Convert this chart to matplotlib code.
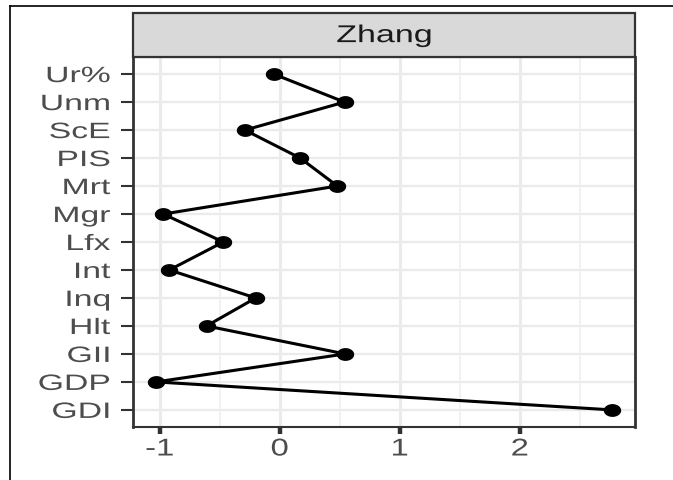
import matplotlib
matplotlib.use("Agg")
import matplotlib.pyplot as plt
from matplotlib.patches import Rectangle
from matplotlib.lines import Line2D
from matplotlib.path import Path
from matplotlib.transforms import Affine2D
from matplotlib.patheffects import AbstractPathEffect
import numpy as np

# Data (top to bottom as displayed)
categories = ["Ur%", "Unm", "ScE", "PIS", "Mrt", "Mgr", "Lfx", "Int", "Inq", "Hlt", "GII", "GDP", "GDI"]
values = [-0.05, 0.54, -0.29, 0.17, 0.48, -0.97, -0.47, -0.92, -0.20, -0.61, 0.545, -1.03, 2.77]
x_ticks = [-1, 0, 1, 2]
x_ticklabels = ["-1", "0", "1", "2"]
panel_title = "Zhang"

plt.rcParams['font.family'] = ['Liberation Sans', 'DejaVu Sans']


class HStretch(AbstractPathEffect):
    """Draw text horizontally stretched (the reference image is widened)."""
    def __init__(self, sx, anchor="center"):
        super().__init__()
        self.sx = sx
        self.anchor = anchor

    def draw_path(self, renderer, gc, tpath, affine, rgbFace=None):
        ext = tpath.get_extents()
        if self.anchor == "right":
            cx = ext.x1
        elif self.anchor == "left":
            cx = ext.x0
        else:
            cx = 0.5 * (ext.x0 + ext.x1)
        t = Affine2D().translate(-cx, 0).scale(self.sx, 1).translate(cx, 0) + affine
        renderer.draw_path(gc, tpath, t, rgbFace)


W, H = 673, 481
fig = plt.figure(figsize=(W / 100, H / 100), dpi=100)
fig.patch.set_facecolor("white")

left, right = 133.3 / W, 635 / W
bottom, top = 1 - 427.7 / H, 1 - 58.3 / H
ax = fig.add_axes([left, bottom, right - left, top - bottom])

n = len(categories)
ypos = np.arange(n, 0, -1)  # first category at top

# grid (theme_bw look, widened horizontally)
for v in [-0.5, 0.5, 1.5, 2.5]:
    ax.axvline(v, color="#F2F2F2", lw=1.5, zorder=0)
for v in x_ticks:
    ax.axvline(v, color="#EBEBEB", lw=2.3, zorder=0)
for y in ypos:
    ax.axhline(y, color="#EBEBEB", lw=1.6, zorder=0)

# elliptical marker (horizontally stretched circle)
th = np.linspace(0, 2 * np.pi, 60)
ell = Path(np.column_stack([1.4 * np.cos(th), np.sin(th)]), closed=True)

ax.plot(values, ypos, color="black", lw=2.2, zorder=3)
ax.plot(values, ypos, linestyle="none", marker=ell, color="black", markersize=11.5, zorder=4)

xmin, xmax = min(values), max(values)
pad = 0.05 * (xmax - xmin)
ax.set_xlim(xmin - pad, xmax + pad)
ax.set_ylim(0.4, n + 0.6)

ax.set_xticks(x_ticks)
ax.set_xticklabels(x_ticklabels)
ax.set_yticks(ypos)
ax.set_yticklabels(categories)
ax.tick_params(axis="x", colors="#333333", length=5, width=3.2, labelsize=17.5,
               labelcolor="#4D4D4D", pad=3.5)
ax.tick_params(axis="y", colors="#333333", length=8.5, width=1.5, labelsize=16,
               labelcolor="#4D4D4D", pad=8)
for lbl in ax.get_yticklabels():
    lbl.set_path_effects([HStretch(1.52, "right")])
for lbl in ax.get_xticklabels():
    lbl.set_path_effects([HStretch(1.35, "center")])

for name, s in ax.spines.items():
    s.set_color("#333333")
    s.set_linewidth(2.0 if name in ("left", "right") else 1.5)

# strip
strip_bottom = top
strip_top = 1 - 14 / H
fig.patches.append(Rectangle((left, strip_bottom), right - left, strip_top - strip_bottom,
                             transform=fig.transFigure, facecolor="#D9D9D9",
                             edgecolor="#333333", lw=1.6, zorder=1))
t = fig.text((left + right) / 2, (strip_bottom + strip_top) / 2 - 0.002, panel_title,
             ha="center", va="center", fontsize=17.5, color="#1A1A1A")
t.set_path_effects([HStretch(1.4, "center")])

# outer frame lines (top and left)
fig.lines.append(Line2D([9.5 / W, 1.0], [1 - 7.3 / H, 1 - 7.3 / H], transform=fig.transFigure,
                        color="black", lw=1.2))
fig.lines.append(Line2D([9.5 / W, 9.5 / W], [0, 1 - 7.3 / H], transform=fig.transFigure,
                        color="black", lw=1.2))

fig.savefig("out.png", dpi=100, facecolor="white")
